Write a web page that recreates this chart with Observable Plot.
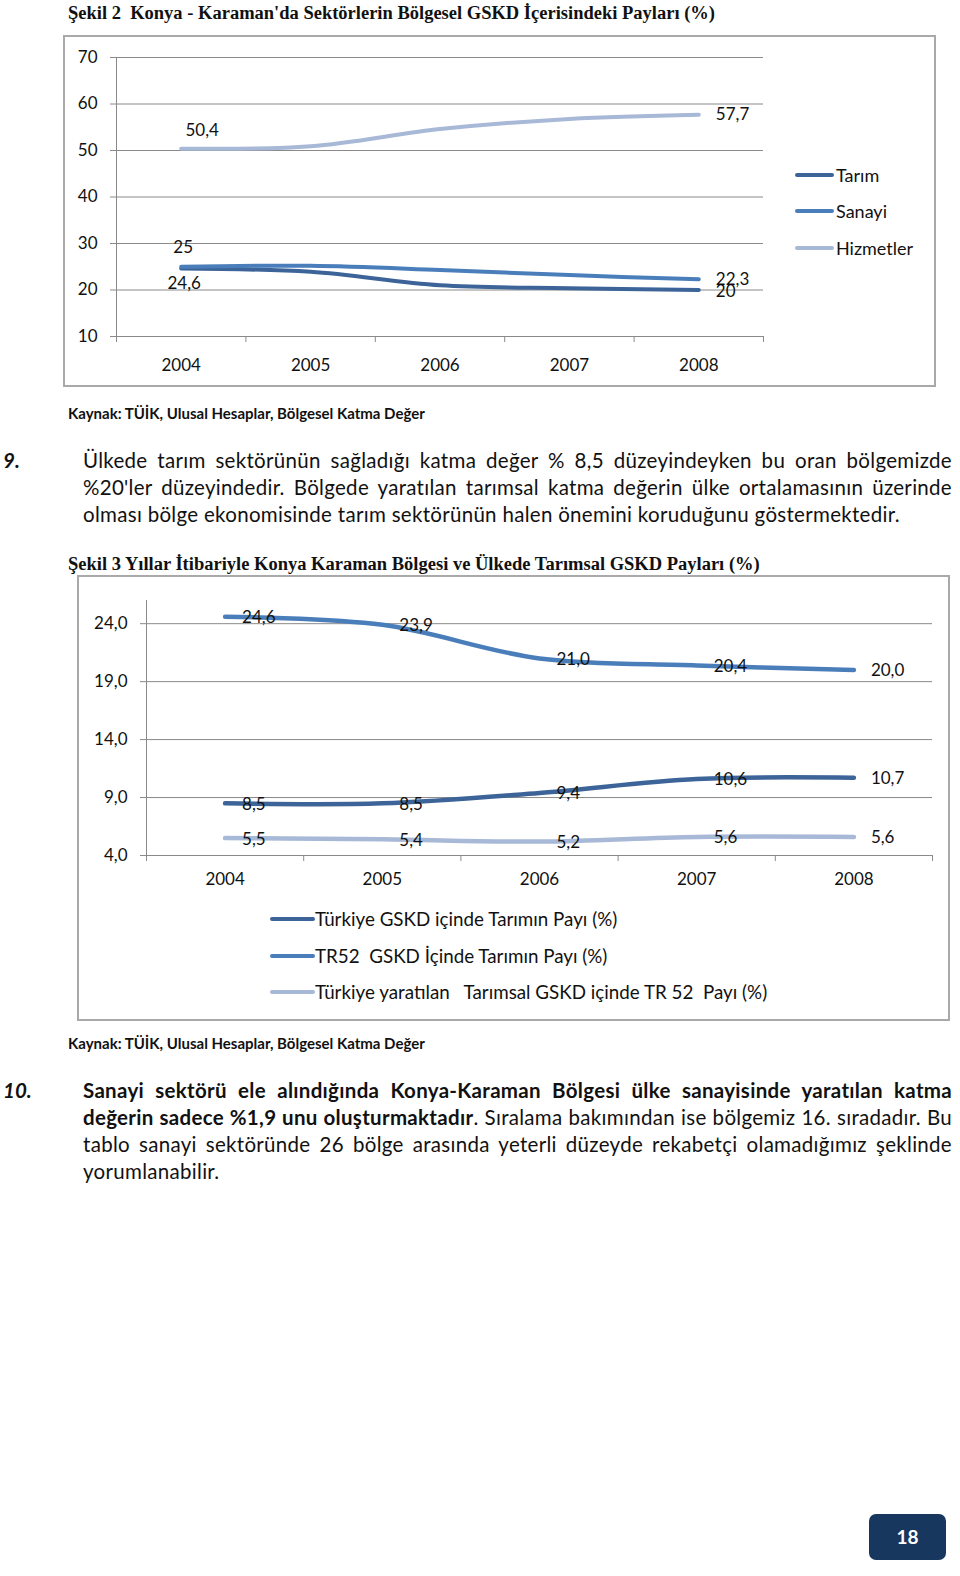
<!DOCTYPE html>
<html>
<head>
<meta charset="utf-8">
<script src="https://cdn.jsdelivr.net/npm/d3@7"></script>
<script src="https://cdn.jsdelivr.net/npm/@observablehq/plot@0.6"></script>
<style>
  html, body { margin:0; padding:0; background:#fff; }
  #page { position:relative; width:960px; height:1576px; background:#fff; overflow:hidden; font-family: Lato, "Open Sans", sans-serif; color:#111; }
  .abs { position:absolute; }
  .title { font-family: "Liberation Serif", "Times New Roman", serif; font-weight:bold; font-size:18.5px; line-height:20px; white-space:pre; color:#111; }
  .frame { border:2px solid #a9a9a9; box-sizing:border-box; }
  .src { font-family: Lato, sans-serif; font-weight:bold; font-size:15px; line-height:18px; white-space:nowrap; }
  .leg { font-family: Lato, sans-serif; line-height:20px; white-space:pre; color:#111; }
  .legline { height:4px; border-radius:2px; }
  .para { left:83px; width:869px; font-size:20.5px; line-height:27px; letter-spacing:0.3px; }
  .para div { text-align:justify; text-align-last:justify; white-space:nowrap; }
  .para div.last { text-align-last:left; }
  .num { left:3px; font-size:20.5px; line-height:27px; font-weight:bold; font-style:italic; }
  .pagebox { left:869px; top:1514px; width:77px; height:46px; background:#17375e; border-radius:7px; color:#fff; font-weight:bold; font-size:19px; line-height:46px; text-align:center; }
</style>
</head>
<body>
<div id="page">
  <div class="abs title" style="left:68px;top:3px;">Şekil 2  Konya - Karaman'da Sektörlerin Bölgesel GSKD İçerisindeki Payları (%)</div>
  <div class="abs frame" style="left:63px;top:35px;width:873px;height:352px;"></div>
  <div id="chart1" class="abs" style="left:63px;top:35px;"></div>
  <div id="legend1"></div>
  <div class="abs src" style="left:68px;top:404px;">Kaynak: TÜİK, Ulusal Hesaplar, Bölgesel Katma Değer</div>

  <div class="abs num" style="top:447px;">9.</div>
  <div class="abs para" style="top:447px;">
    <div>Ülkede tarım sektörünün sağladığı katma değer % 8,5 düzeyindeyken bu oran bölgemizde</div>
    <div>%20'ler düzeyindedir. Bölgede yaratılan tarımsal katma değerin ülke ortalamasının üzerinde</div>
    <div class="last">olması bölge ekonomisinde tarım sektörünün halen önemini koruduğunu göstermektedir.</div>
  </div>

  <div class="abs title" style="left:68px;top:554px;">Şekil 3 Yıllar İtibariyle Konya Karaman Bölgesi ve Ülkede Tarımsal GSKD Payları (%)</div>
  <div class="abs frame" style="left:77px;top:575px;width:873px;height:446px;"></div>
  <div id="chart2" class="abs" style="left:77px;top:575px;"></div>
  <div id="legend2"></div>
  <div class="abs src" style="left:68px;top:1034px;">Kaynak: TÜİK, Ulusal Hesaplar, Bölgesel Katma Değer</div>

  <div class="abs num" style="top:1077px;">10.</div>
  <div class="abs para" style="top:1077px;">
    <div><b>Sanayi sektörü ele alındığında Konya-Karaman Bölgesi ülke sanayisinde yaratılan katma</b></div>
    <div><b>değerin sadece %1,9 unu oluşturmaktadır</b>. Sıralama bakımından ise bölgemiz 16. sıradadır. Bu</div>
    <div>tablo sanayi sektöründe 26 bölge arasında yeterli düzeyde rekabetçi olamadığımız şeklinde</div>
    <div class="last">yorumlanabilir.</div>
  </div>

  <div class="abs pagebox">18</div>
</div>
<script>
// ---------- Data: Şekil 2 ----------
const years = [2004, 2005, 2006, 2007, 2008];
const sectorNames = ["Tarım", "Sanayi", "Hizmetler"];
const tarim = [24.6, 23.9, 21.0, 20.4, 20];
const sanayi = [25, 25.2, 24.3, 23.2, 22.3];
const hizmetler = [50.4, 50.9, 54.6, 56.8, 57.7];
const yTicks1 = [10, 20, 30, 40, 50, 60, 70];

// ---------- Data: Şekil 3 ----------
const seriesNames2 = [
  "Türkiye GSKD içinde Tarımın Payı (%)",
  "TR52  GSKD İçinde Tarımın Payı (%)",
  "Türkiye yaratılan   Tarımsal GSKD içinde TR 52  Payı (%)"
];
const trGskdTarim = [8.5, 8.5, 9.4, 10.6, 10.7];
const tr52Tarim = [24.6, 23.9, 21.0, 20.4, 20.0];
const tr52InTrTarim = [5.5, 5.4, 5.2, 5.6, 5.6];
const yTicks2 = [4, 9, 14, 19, 24];

const colors = ["#3d6498", "#4a7ebb", "#a7b9d7"];
const gridColor = "#8a8a8a";
const boundaries = years.map(y => y - 0.5).concat([years[years.length - 1] + 0.5]);

// ---------- Chart 1 ----------
const rows1 = years.flatMap((y, i) => [
  {year: y, v: tarim[i], s: sectorNames[0]},
  {year: y, v: sanayi[i], s: sectorNames[1]},
  {year: y, v: hizmetler[i], s: sectorNames[2]}
]);
const fmt1 = v => String(v).replace(".", ",");
const first = years[0], last = years[years.length - 1];

const chart1 = Plot.plot({
  width: 873, height: 352,
  marginLeft: 53, marginRight: 173, marginTop: 22, marginBottom: 51,
  style: {fontFamily: "Lato, sans-serif", fontSize: "17px", color: "#111", background: "transparent", overflow: "visible"},
  x: {type: "linear", domain: [boundaries[0], boundaries[boundaries.length - 1]], label: null},
  y: {domain: [yTicks1[0], yTicks1[yTicks1.length - 1]], label: null},
  color: {domain: sectorNames, range: colors},
  marks: [
    Plot.gridY(yTicks1, {stroke: gridColor, strokeOpacity: 1, strokeWidth: 1}),
    Plot.ruleX([boundaries[0]], {stroke: gridColor, strokeWidth: 1}),
    Plot.axisY(yTicks1, {tickSize: 6, tickPadding: 13, stroke: gridColor, fill: "#111", fontSize: 17, label: null}),
    Plot.axisX(boundaries, {tickSize: 6, tickFormat: () => "", stroke: gridColor, label: null}),
    Plot.axisX(years, {tickSize: 0, tickPadding: 22, tickFormat: d => String(d), fill: "#111", fontSize: 17, label: null}),
    Plot.lineY(rows1, {x: "year", y: "v", stroke: "s", strokeWidth: 4, curve: "catmull-rom", strokeLinecap: "round"}),
    Plot.text(rows1.filter(d => d.year === first && d.s === "Hizmetler"), {x: "year", y: "v", text: d => fmt1(d.v), dx: 21, dy: -18, fill: "#111", fontSize: 17}),
    Plot.text(rows1.filter(d => d.year === first && d.s === "Sanayi"), {x: "year", y: "v", text: d => fmt1(d.v), dx: 2, dy: -19, fill: "#111", fontSize: 17}),
    Plot.text(rows1.filter(d => d.year === first && d.s === "Tarım"), {x: "year", y: "v", text: d => fmt1(d.v), dx: 3, dy: 15, fill: "#111", fontSize: 17}),
    Plot.text(rows1.filter(d => d.year === last && d.s !== "Tarım"), {x: "year", y: "v", text: d => fmt1(d.v), dx: 17, textAnchor: "start", fill: "#111", fontSize: 17}),
    Plot.text(rows1.filter(d => d.year === last && d.s === "Tarım"), {x: "year", y: "v", text: d => fmt1(d.v), dx: 17, dy: 2, textAnchor: "start", fill: "#111", fontSize: 17})
  ]
});
document.getElementById("chart1").appendChild(chart1);

// Legend 1 (HTML)
const leg1 = document.getElementById("legend1");
const leg1Y = [175, 211, 248];
sectorNames.forEach((name, i) => {
  const ln = document.createElement("div");
  ln.className = "abs legline";
  ln.style.cssText = `left:795px;top:${leg1Y[i] - 2}px;width:39px;background:${colors[i]};`;
  leg1.appendChild(ln);
  const tx = document.createElement("div");
  tx.className = "abs leg";
  tx.style.cssText = `left:836px;top:${leg1Y[i] - 10}px;font-size:18px;`;
  tx.textContent = name;
  leg1.appendChild(tx);
});

// ---------- Chart 2 ----------
const rows2 = years.flatMap((y, i) => [
  {year: y, v: trGskdTarim[i], s: seriesNames2[0]},
  {year: y, v: tr52Tarim[i], s: seriesNames2[1]},
  {year: y, v: tr52InTrTarim[i], s: seriesNames2[2]}
]);
const fmt2 = v => v.toFixed(1).replace(".", ",");

const chart2 = Plot.plot({
  width: 873, height: 320,
  marginLeft: 69, marginRight: 18, marginTop: 25, marginBottom: 40,
  style: {fontFamily: "Lato, sans-serif", fontSize: "17px", color: "#111", background: "transparent", overflow: "visible"},
  x: {type: "linear", domain: [boundaries[0], boundaries[boundaries.length - 1]], label: null},
  y: {domain: [4, 26], label: null},
  color: {domain: seriesNames2, range: colors},
  marks: [
    Plot.gridY(yTicks2, {stroke: gridColor, strokeOpacity: 1, strokeWidth: 1}),
    Plot.ruleX([boundaries[0]], {stroke: gridColor, strokeWidth: 1}),
    Plot.axisY(yTicks2, {tickSize: 6, tickPadding: 13, stroke: gridColor, fill: "#111", fontSize: 17, tickFormat: fmt2, label: null}),
    Plot.axisX(boundaries, {tickSize: 6, tickFormat: () => "", stroke: gridColor, label: null}),
    Plot.axisX(years, {tickSize: 0, tickPadding: 17, tickFormat: d => String(d), fill: "#111", fontSize: 17, label: null}),
    Plot.lineY(rows2, {x: "year", y: "v", stroke: "s", strokeWidth: 4.5, curve: "catmull-rom", strokeLinecap: "round"}),
    Plot.text(rows2, {x: "year", y: "v", text: d => fmt2(d.v), dx: 17, dy: 1, textAnchor: "start", fill: "#111", fontSize: 17})
  ]
});
document.getElementById("chart2").appendChild(chart2);

// Legend 2 (HTML)
const leg2 = document.getElementById("legend2");
const leg2Y = [919, 956, 992];
seriesNames2.forEach((name, i) => {
  const ln = document.createElement("div");
  ln.className = "abs legline";
  ln.style.cssText = `left:270px;top:${leg2Y[i] - 2}px;width:45px;background:${colors[i]};`;
  leg2.appendChild(ln);
  const tx = document.createElement("div");
  tx.className = "abs leg";
  tx.style.cssText = `left:315px;top:${leg2Y[i] - 10}px;font-size:18.8px;`;
  tx.textContent = name;
  leg2.appendChild(tx);
});
</script>
</body>
</html>
